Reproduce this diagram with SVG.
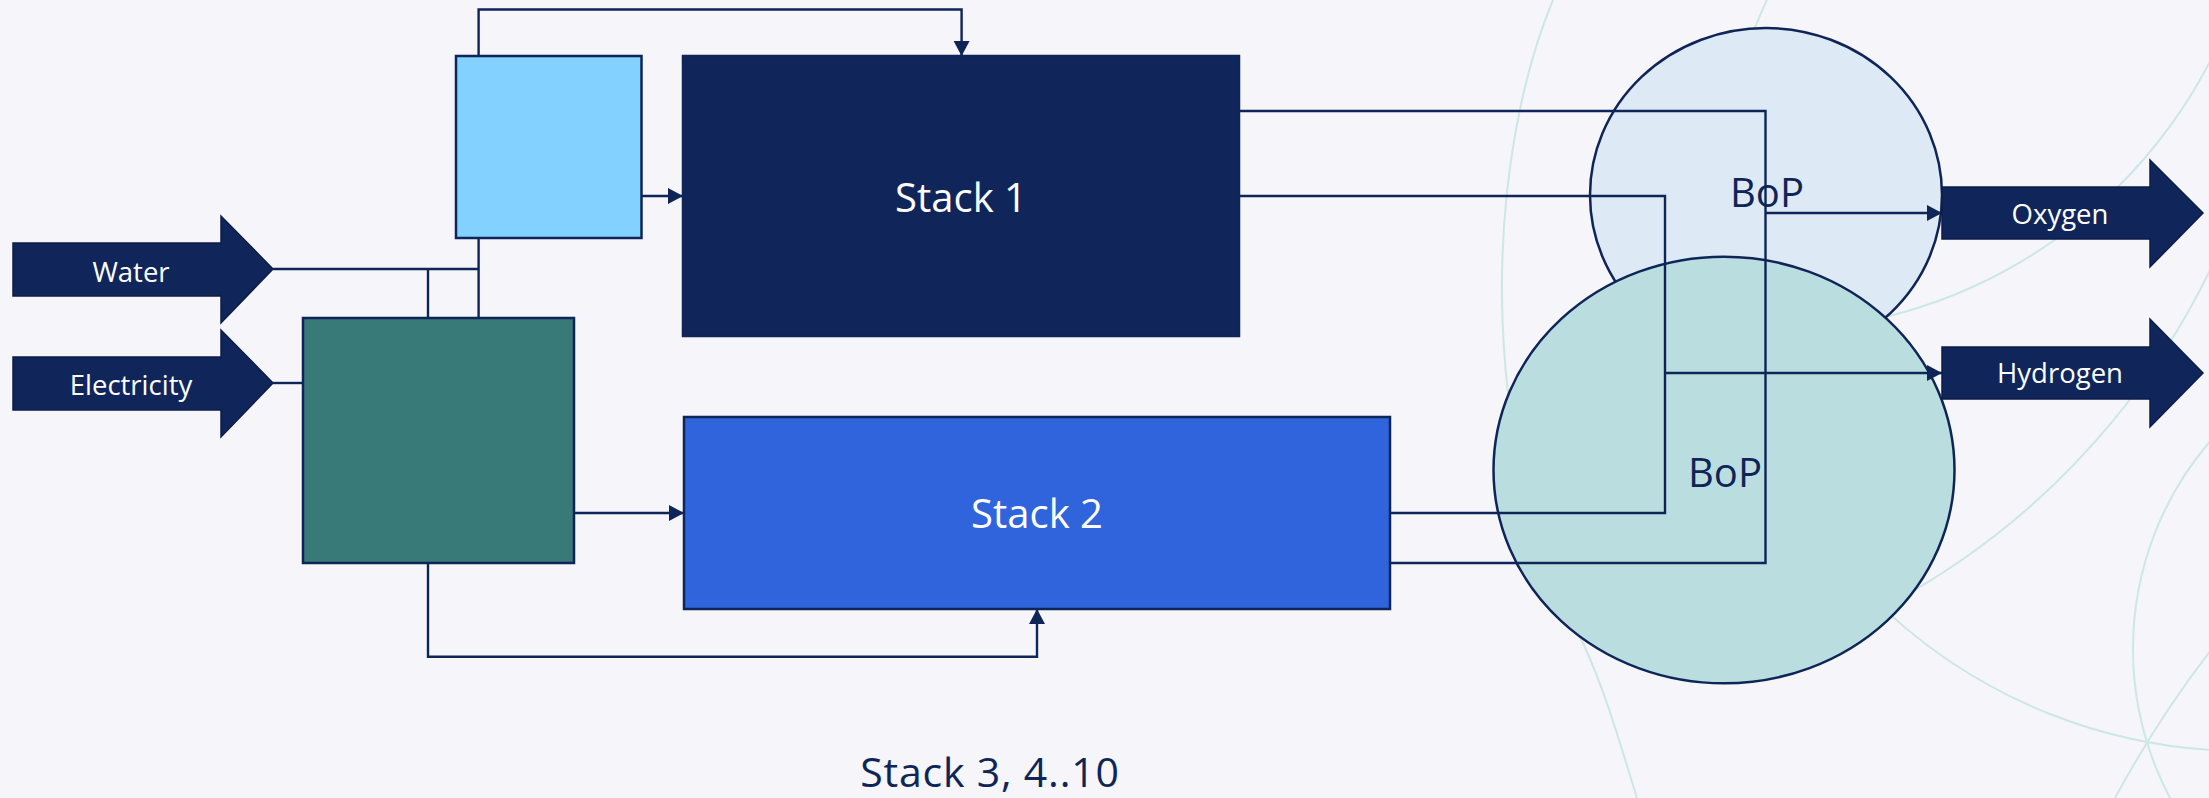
<svg xmlns="http://www.w3.org/2000/svg" width="2209" height="798" viewBox="0 0 2209 798">
  <defs>
    <style>
      .bg { fill: #F5F5FA; }
      .deco { fill: none; stroke: #CDE7E5; stroke-width: 2; }
      .box { stroke: #0F2557; stroke-width: 2.5; }
      .blk { fill: #10265B; stroke: #0B1D48; stroke-width: 1.5; }
      .bop { stroke: #0F2557; stroke-width: 2.5; }
      .wire { fill: none; stroke: #0F2557; stroke-width: 2.4; }
      .lbl-big { font-family: "Open Sans", "Liberation Sans", sans-serif; font-size: 40px; text-anchor: middle; }
      .lbl-sm { font-family: "Open Sans", "Liberation Sans", sans-serif; font-size: 27.5px; text-anchor: middle; fill: #FFFFFF; }
      .caption { font-size: 41px; letter-spacing: 0.8px; }
      .white { fill: #FFFFFF; }
      .navy { fill: #0F2557; }
    </style>
    <marker id="arrow" markerUnits="userSpaceOnUse" markerWidth="15" markerHeight="16" viewBox="0 0 15 16" refX="15" refY="8" orient="auto">
      <path d="M0,0 L15,8 L0,16 Z" fill="#0F2557"/>
    </marker>
  </defs>

  <rect class="bg" x="0" y="0" width="2209" height="798"/>

  <!-- decorative background arcs -->
  <g id="background-arcs">
    <path class="deco" d="M1553,0 C1490,150 1470,430 1583,643 C1605,690 1622,750 1637,798"/>
    <circle class="deco" cx="2244" cy="224" r="527"/>
    <path class="deco" d="M2240,-10 A498,498 0 0 1 1755,331"/>
    <path class="deco" d="M2250,170 A754,754 0 0 1 1890,604"/>
    <circle class="deco" cx="2451" cy="649" r="318"/>
    <path class="deco" d="M2115,798 Q2160,715 2215,645"/>
  </g>

  <!-- inputs -->
  <g id="water">
    <path class="blk" d="M13,243 H221 V216 L273,269 L221,323 V296 H13 Z"/>
    <text class="lbl-sm" x="131" y="282">Water</text>
  </g>
  <g id="electricity">
    <path class="blk" d="M13,357 H221 V330 L273,383 L221,437 V410 H13 Z"/>
    <text class="lbl-sm" x="131" y="395">Electricity</text>
  </g>

  <!-- process blocks -->
  <g id="water-treatment">
    <rect class="box" x="456" y="56" width="185.5" height="182" fill="#83D1FE"/>
  </g>
  <g id="power-supply">
    <rect class="box" x="303" y="318" width="271" height="245" fill="#377A77"/>
  </g>
  <g id="stack-1">
    <rect class="box" x="683" y="56" width="556" height="280" fill="#10265B"/>
    <text class="lbl-big white" x="961" y="212">Stack 1</text>
  </g>
  <g id="stack-2">
    <rect class="box" x="684" y="417" width="706" height="192" fill="#3064DD"/>
    <text class="lbl-big white" x="1037" y="528">Stack 2</text>
  </g>

  <!-- balance of plant -->
  <g id="bop-oxygen">
    <ellipse class="bop" cx="1766" cy="195" rx="176" ry="167" fill="#DDEAF5"/>
    <text class="lbl-big navy" x="1767" y="207">BoP</text>
  </g>
  <g id="bop-hydrogen">
    <ellipse class="bop" cx="1724" cy="470" rx="230.5" ry="213.3" fill="#BADEE0"/>
    <text class="lbl-big navy" x="1725" y="487">BoP</text>
  </g>

  <!-- connectors -->
  <g id="connectors">
    <path class="wire" d="M273,269 H478.6"/>
    <path class="wire" d="M428,269 V318"/>
    <path class="wire" d="M478.6,318 V238"/>
    <path class="wire" d="M478.6,56 V9.5 H961.6 V56" marker-end="url(#arrow)"/>
    <path class="wire" d="M641.5,196 H683" marker-end="url(#arrow)"/>
    <path class="wire" d="M273,383 H303"/>
    <path class="wire" d="M574,513 H684" marker-end="url(#arrow)"/>
    <path class="wire" d="M428,563 V656.7 H1037 V609" marker-end="url(#arrow)"/>
    <path class="wire" d="M1239,111 H1765.5 V563 H1390"/>
    <path class="wire" d="M1765.5,213 H1942" marker-end="url(#arrow)"/>
    <path class="wire" d="M1239,196 H1665 V513 H1390"/>
    <path class="wire" d="M1665,373 H1942" marker-end="url(#arrow)"/>
  </g>

  <!-- outputs -->
  <g id="oxygen">
    <path class="blk" d="M1942,187 H2150 V160 L2203,213 L2150,267 V239 H1942 Z"/>
    <text class="lbl-sm" x="2060" y="224">Oxygen</text>
  </g>
  <g id="hydrogen">
    <path class="blk" d="M1942,347 H2150 V319 L2203,373 L2150,427 V399 H1942 Z"/>
    <text class="lbl-sm" x="2060" y="383">Hydrogen</text>
  </g>

  <g id="caption">
    <text class="lbl-big navy caption" x="990" y="787">Stack 3, 4..10</text>
  </g>
</svg>
